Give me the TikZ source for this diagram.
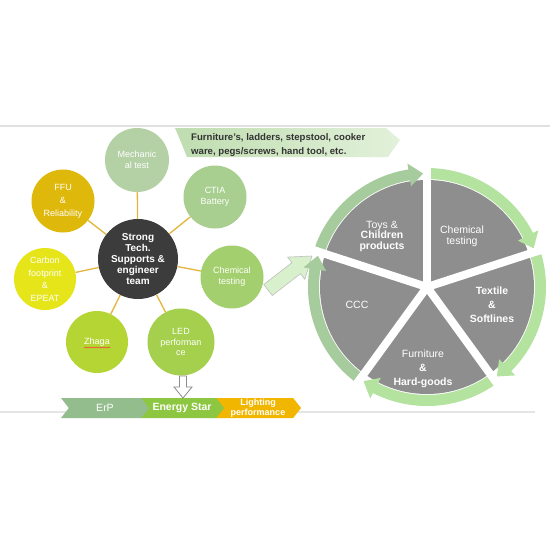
\documentclass[tikz,border=0pt]{standalone}
\usepackage{fontspec}
\setmainfont{Liberation Sans}
\usetikzlibrary{shapes.symbols,decorations.pathmorphing}
\definecolor{mechc}{HTML}{B4D1A6}
\definecolor{ctiac}{HTML}{A8CF8F}
\definecolor{chemc}{HTML}{A3CF6E}
\definecolor{ledc}{HTML}{A5D04D}
\definecolor{zhagac}{HTML}{B5D534}
\definecolor{carbonc}{HTML}{E5E51A}
\definecolor{ffuc}{HTML}{DFB80C}
\definecolor{centerc}{HTML}{3C3C3C}
\definecolor{piegray}{HTML}{8E8E8E}
\definecolor{ringdark}{HTML}{A6CB9C}
\definecolor{ringlight}{HTML}{B4E29F}
\definecolor{bannerl}{HTML}{BFDDB0}
\definecolor{bannerr}{HTML}{E2F1DA}
\definecolor{erpc}{HTML}{94BD8E}
\definecolor{esc}{HTML}{8DC641}
\definecolor{lightc}{HTML}{F1B600}
\definecolor{connc}{HTML}{E3B53A}
\definecolor{arrowg}{HTML}{D8F0CC}
\tikzset{
  sat/.style={circle, fill=#1, text=white, align=center, inner sep=0pt,
    font=\fontsize{9}{11}\selectfont},
  conn/.style={connc, line width=1.3pt},
  pielabel/.style={text=white, align=center, inner sep=0pt},
  chev/.style={signal, signal to=east, signal from=west, signal pointer angle=104,
    minimum height=20pt, inner sep=0pt, text=white, align=center},
}
\begin{document}
\begin{tikzpicture}[x=1pt,y=-1pt]
\useasboundingbox (0,0) rectangle (550,550);
\fill[white] (0,0) rectangle (550,550);
% separator lines
\draw[line width=1.5pt, black!12] (0,126) -- (550,126);
\draw[line width=1.5pt, black!10] (0,412) -- (535,412);
% banner
\shade[left color=bannerl, right color=bannerr] (175,128) -- (386,128) -- (400,140) -- (388,157) -- (187,157) -- (181,142) -- cycle;
\node[anchor=west, align=left, inner sep=0pt, text=black!80,
  font=\bfseries\fontsize{9.6}{13.5}\selectfont] (banner) at (191,145)
  {Furniture's, ladders, stepstool, cooker\\ware, pegs/screws, hand tool, etc.};
% satellites
\node[sat=centerc, minimum size=80pt, font=\bfseries\fontsize{10}{11}\selectfont] (core) at (138,259) {Strong\\Tech.\\Supports \&\\engineer\\team};
\node[sat=mechc, minimum size=64pt] (mech) at (137,160) {Mechanic\\al test};
\node[sat=ctiac, minimum size=63pt] (ctia) at (215,197) {CTIA\\Battery};
\node[sat=chemc, minimum size=63pt] (chem) at (232,277) {Chemical\\testing};
\node[sat=ledc, minimum size=67pt, font=\fontsize{9}{10.5}\selectfont] (led) at (181,342) {LED\\performan\\ce};
\node[sat=zhagac, minimum size=62pt] (zhaga) at (97,342) {Zhaga};
\node[sat=carbonc, minimum size=62pt, font=\fontsize{9}{12.5}\selectfont] (carbon) at (45,279) {Carbon\\footprint\\\&\\EPEAT};
\node[sat=ffuc, minimum size=63pt, font=\fontsize{9}{13}\selectfont] (ffu) at (63,201) {FFU\\\&\\Reliability};
\draw[red!80, line width=0.5pt, decorate, decoration={snake, amplitude=0.5pt, segment length=2pt}] (84,347.5) -- (110,347.5);
\foreach \s in {mech,ctia,chem,led,zhaga,carbon,ffu}
  \draw[conn] (core) -- (\s);
% block arrow to pie
\filldraw[fill=arrowg, draw=black!25, line width=0.6pt]
  (263.7,284.5) -- (291.9,262.7) -- (287.6,257.1) -- (312,256) -- (304.8,279.3) -- (300.5,273.7) -- (272.3,295.5) -- cycle;
% pie
\begin{scope}[shift={(427,287)}, yscale=-1]
  \fill[piegray] (0,0) circle[radius=107];
  \foreach \a/\b/\c in {162/90/ringdark, 90/18/ringlight, 18/-54/ringlight, -54/-126/ringlight, -126/-198/ringdark}
    \fill[\c] ({\a-2}:108) arc[start angle={\a-2}, end angle={\b+9}, radius=108]
      -- ({\b+9}:102) -- ({\b+2}:113.5) -- ({\b+9}:125) -- ({\b+9}:119)
      arc[start angle={\b+9}, end angle={\a-2}, radius=119] -- cycle;
  \foreach \t in {90,18,162,234,306}
    \draw[white, line width=8pt] (0,0) -- (\t:128);
\end{scope}
\node[pielabel, font=\fontsize{10.5}{10.5}\selectfont] (toys) at (382,236) {Toys \&\\\textbf{Children}\\\textbf{products}};
\node[pielabel, font=\fontsize{10.5}{11}\selectfont] (chemt) at (462,236) {Chemical\\testing};
\node[pielabel, font=\bfseries\fontsize{10.5}{14}\selectfont] (textile) at (492,305) {Textile\\\&\\Softlines};
\node[pielabel, font=\fontsize{10.5}{14}\selectfont] (furn) at (423,369) {Furniture\\\textbf{\&}\\\textbf{Hard-goods}};
\node[pielabel, font=\fontsize{10.5}{12}\selectfont] (ccc) at (357,305) {CCC};
% chevrons
\node[chev, fill=lightc, minimum width=86pt, font=\bfseries\fontsize{9}{9.5}\selectfont] (lighting) at (258,408) {Lighting\\performance};
\node[chev, fill=esc, minimum width=84pt, font=\bfseries\fontsize{10.5}{12}\selectfont] (estar) at (182,408) {Energy Star};
\node[chev, fill=erpc, minimum width=88pt, font=\fontsize{10.5}{12}\selectfont] (erp) at (105,408) {ErP};
% down arrow
\filldraw[draw=black!45, fill=white, line width=0.8pt] (179.5,376) -- (186.5,376) -- (186.5,387) -- (192,387) -- (183,398) -- (174,387) -- (179.5,387) -- cycle;
\end{tikzpicture}
\end{document}
